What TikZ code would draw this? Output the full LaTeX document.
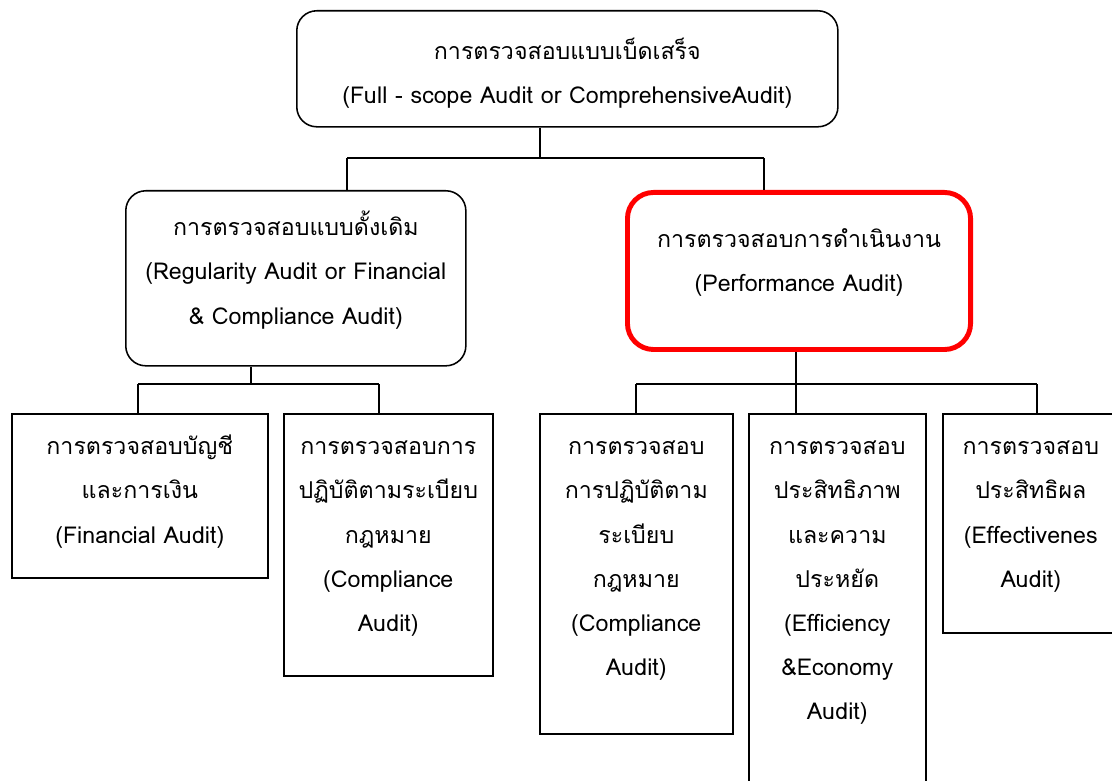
\documentclass[tikz,border=0pt]{standalone}
\usepackage{fontspec}
\usepackage{tikz}
\newfontfamily\thaifont[Script=Thai]{Loma}

\begin{document}
\begin{tikzpicture}[
        x=0.025cm, y=-0.025cm,
        line width=1.1pt,
        box/.style={draw, anchor=north west, align=center, inner xsep=0pt, inner ysep=0pt,
            font=\thaifont\fontsize{16.5}{31.4}\selectfont},
        roundbox/.style={box, rounded corners=0.5cm},
        redbox/.style={box, draw=red, line width=3.5pt, rounded corners=0.65cm},
        leaf/.style={box, text height=1.025cm}
    ]

    \useasboundingbox (0,0) rectangle (1112,781);
    \clip (0,0) rectangle (1112,781);

    % Top level
    \node[roundbox, text width=13.525cm, text height=1.225cm, text depth=1.675cm] (top) at (296,10)
        {การตรวจสอบแบบเบ็ดเสร็จ\\(Full - scope Audit or ComprehensiveAudit)};

    % --------------------------------------------------
    % Second level
    \node[roundbox, text width=8.5cm, text height=1.125cm, text depth=3.25cm] (regular) at (125,190)
        {การตรวจสอบแบบดั้งเดิม\\(Regularity Audit or Financial\\\& Compliance Audit)};
    \node[redbox, text width=8.575cm, text height=1.375cm, text depth=2.55cm] (perform) at (625,190)
        {การตรวจสอบการดำเนินงาน\\(Performance Audit)};

    % --------------------------------------------------
    % Third level
    \node[leaf, text width=6.4cm, text depth=3.075cm] (fin) at (11,413)
        {การตรวจสอบบัญชี\\และการเงิน\\(Financial Audit)};
    \node[leaf, text width=5.225cm, text depth=5.525cm] (comp) at (283,413)
        {การตรวจสอบการ\\ปฏิบัติตามระเบียบ\\กฎหมาย\\(Compliance\\Audit)};
    \node[leaf, text width=4.825cm, text depth=6.975cm] (compl) at (539,413)
        {การตรวจสอบ\\การปฏิบัติตาม\\ระเบียบ\\กฎหมาย\\(Compliance\\Audit)};
    \node[leaf, text width=4.425cm, text depth=8.65cm] (effic) at (748,413)
        {การตรวจสอบ\\ประสิทธิภาพ\\และความ\\ประหยัด\\(Efficiency\\\&Economy\\Audit)};
    \node[leaf, text width=4.4cm, text depth=4.45cm] (effect) at (942,413)
        {การตรวจสอบ\\ประสิทธิผล\\(Effectivenes\\Audit)};

    % --------------------------------------------------
    % Connectors
    \coordinate (busTop) at (540,158);
    \coordinate (busTopL) at (347,158);
    \coordinate (busTopR) at (764,158);
    \coordinate (busL) at (251,384);
    \coordinate (busLa) at (138,384);
    \coordinate (busLb) at (379,384);
    \coordinate (busR) at (796,384);
    \coordinate (busRa) at (636,384);
    \coordinate (busRc) at (1037,384);

    \draw (busTopL) -- (busTopR);
    \draw (busLa) -- (busLb);
    \draw (busRa) -- (busRc);

    \foreach \c/\n in {busTop/top, busL/regular, busR/perform}
        \draw (\c) -- (\c |- \n.south);
    \foreach \c/\n in {busTopL/regular, busTopR/perform, busLa/fin, busLb/comp, busRa/compl, busR/effic, busRc/effect}
        \draw (\c) -- (\c |- \n.north);

\end{tikzpicture}
\end{document}
